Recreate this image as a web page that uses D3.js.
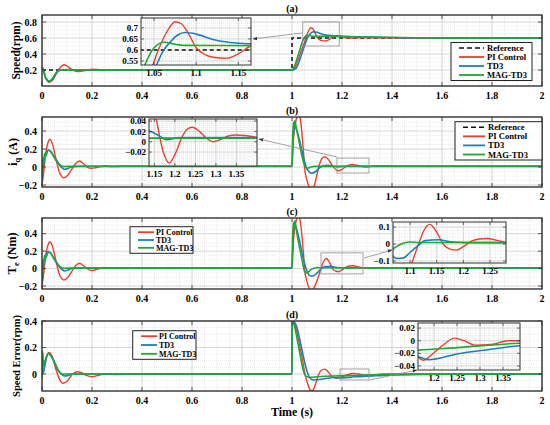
<!DOCTYPE html>
<html>
<head>
<meta charset="utf-8">
<script src="https://cdn.jsdelivr.net/npm/d3@7"></script>
<style>
  body { margin: 0; background: #fff; }
  svg { display: block; font-family: "Liberation Serif", "Times New Roman", serif; font-weight: bold; }
</style>
</head>
<body>
<svg id="chart" width="550" height="425"></svg>
<script>
// ---- data: [time (s), value] ----
const timeTicks = [0, 0.2, 0.4, 0.6, 0.8, 1, 1.2, 1.4, 1.6, 1.8, 2];
const legendFull = ["Reference", "PI Control", "TD3", "MAG-TD3"];
const legendShort = ["PI Control", "TD3", "MAG-TD3"];

// (a) speed
const speedRef = [[0, 0.2], [1, 0.2], [1, 0.6], [2, 0.6]];
const speedPI = [[0, 0.2], [0.005, 0.185], [0.015, 0.1], [0.028, 0.045], [0.04, 0.065], [0.06, 0.17], [0.075, 0.24], [0.088, 0.266], [0.1, 0.25], [0.12, 0.205], [0.135, 0.183], [0.15, 0.18], [0.175, 0.195], [0.2, 0.21], [0.23, 0.205], [0.27, 0.198], [0.35, 0.2], [1.0, 0.2], [1.01, 0.22], [1.02, 0.29], [1.03, 0.38], [1.04, 0.47], [1.0485, 0.532], [1.055, 0.6], [1.062, 0.66], [1.068, 0.7], [1.075, 0.728], [1.082, 0.72], [1.09, 0.68], [1.1, 0.61], [1.11, 0.58], [1.12, 0.567], [1.1365, 0.563], [1.15, 0.583], [1.164, 0.617], [1.18, 0.63], [1.2, 0.615], [1.23, 0.598], [1.26, 0.603], [1.3, 0.602], [2, 0.6]];
const speedTD3 = [[0, 0.2], [0.005, 0.198], [0.015, 0.1], [0.03, 0.058], [0.045, 0.1], [0.06, 0.17], [0.075, 0.2], [0.1, 0.205], [0.15, 0.2], [1.0, 0.2], [1.01, 0.205], [1.02, 0.24], [1.03, 0.32], [1.04, 0.41], [1.053, 0.532], [1.06, 0.59], [1.07, 0.64], [1.078, 0.668], [1.087, 0.679], [1.1, 0.672], [1.12, 0.648], [1.136, 0.636], [1.164, 0.628], [1.2, 0.622], [1.3, 0.612], [1.45, 0.604], [2, 0.6]];
const speedMAG = [[0, 0.2], [0.004, 0.228], [0.008, 0.17], [0.015, 0.1], [0.03, 0.06], [0.045, 0.11], [0.06, 0.18], [0.075, 0.2], [0.1, 0.201], [1.0, 0.2], [1.01, 0.25], [1.02, 0.34], [1.03, 0.44], [1.039, 0.532], [1.05, 0.61], [1.062, 0.635], [1.075, 0.626], [1.085, 0.621], [1.165, 0.62], [1.3, 0.612], [1.5, 0.604], [2, 0.6]];

// (b) q-axis current
const iqPI = [[0, -0.2], [0.005, -0.1], [0.015, 0.15], [0.025, 0.28], [0.031, 0.308], [0.04, 0.27], [0.055, 0.1], [0.07, -0.06], [0.088, -0.12], [0.1, -0.1], [0.12, -0.02], [0.135, 0.04], [0.15, 0.067], [0.165, 0.04], [0.18, 0.0], [0.198, -0.015], [0.215, -0.008], [0.235, 0.006], [0.255, 0.012], [0.28, 0.004], [0.32, 0.008], [1.0, 0.008], [1.003, 0.2], [1.01, 0.42], [1.02, 0.56], [1.027, 0.6], [1.035, 0.5], [1.045, 0.2], [1.05, 0.0], [1.06, -0.15], [1.07, -0.23], [1.079, -0.25], [1.09, -0.2], [1.1, -0.08], [1.11, 0.03], [1.12, 0.095], [1.132, 0.114], [1.145, 0.085], [1.155, 0.043], [1.17, -0.015], [1.186, -0.041], [1.2, -0.025], [1.218, 0.01], [1.23, 0.024], [1.242, 0.028], [1.26, 0.02], [1.275, 0.008], [1.293, 0.0], [1.31, 0.004], [1.33, 0.011], [1.349, 0.013], [1.37, 0.012], [1.4, 0.009], [1.5, 0.008], [2, 0.008]];
const iqTD3 = [[0, -0.15], [0.005, 0.0], [0.012, 0.12], [0.025, 0.19], [0.035, 0.17], [0.05, 0.1], [0.07, 0.02], [0.09, -0.025], [0.105, -0.015], [0.12, 0.004], [0.15, 0.008], [1.0, 0.008], [1.004, 0.3], [1.008, 0.42], [1.012, 0.448], [1.018, 0.42], [1.03, 0.3], [1.045, 0.12], [1.06, -0.02], [1.079, -0.07], [1.095, -0.05], [1.11, -0.01], [1.125, 0.015], [1.139, 0.02], [1.16, 0.012], [1.18, 0.004], [1.21, 0.008], [2, 0.008]];
const iqMAG = [[0, -0.1], [0.003, 0.1], [0.006, 0.04], [0.01, 0.15], [0.015, 0.12], [0.025, 0.19], [0.035, 0.175], [0.05, 0.11], [0.07, 0.03], [0.085, 0.004], [0.1, 0.007], [1.0, 0.007], [1.003, 0.35], [1.006, 0.5], [1.009, 0.44], [1.012, 0.52], [1.016, 0.45], [1.025, 0.33], [1.04, 0.12], [1.05, 0.02], [1.059, -0.015], [1.075, 0.0], [1.09, 0.007], [2, 0.007]];

// (c) electromagnetic torque
const tePI = [[0, -0.19], [0.005, -0.1], [0.015, 0.15], [0.025, 0.28], [0.031, 0.307], [0.04, 0.27], [0.055, 0.1], [0.07, -0.07], [0.088, -0.13], [0.1, -0.11], [0.12, -0.03], [0.135, 0.035], [0.15, 0.062], [0.165, 0.035], [0.18, 0.0], [0.198, -0.023], [0.215, -0.012], [0.235, 0.004], [0.255, 0.01], [0.28, 0.004], [0.32, 0.005], [1.0, 0.005], [1.003, 0.2], [1.01, 0.45], [1.02, 0.58], [1.027, 0.62], [1.035, 0.5], [1.045, 0.2], [1.05, 0.0], [1.06, -0.15], [1.07, -0.23], [1.079, -0.25], [1.09, -0.21], [1.1, -0.14], [1.108, -0.07], [1.116, 0.0], [1.126, 0.08], [1.137, 0.116], [1.15, 0.07], [1.162, 0.0], [1.175, -0.03], [1.187, -0.036], [1.2, -0.015], [1.216, 0.018], [1.23, 0.03], [1.244, 0.033], [1.265, 0.02], [1.283, 0.008], [1.3, 0.002], [1.33, 0.006], [1.36, 0.012], [1.4, 0.008], [2, 0.008]];
const teTD3 = [[0, -0.15], [0.005, 0.0], [0.012, 0.12], [0.025, 0.196], [0.035, 0.175], [0.05, 0.1], [0.07, 0.02], [0.09, -0.027], [0.105, -0.015], [0.12, 0.003], [0.15, 0.005], [1.0, 0.005], [1.004, 0.35], [1.008, 0.48], [1.012, 0.5], [1.018, 0.46], [1.03, 0.32], [1.045, 0.12], [1.06, -0.03], [1.075, -0.085], [1.087, -0.083], [1.1, -0.05], [1.115, -0.01], [1.128, 0.02], [1.153, 0.025], [1.18, 0.012], [1.22, 0.008], [2, 0.008]];
const teMAG = [[0, -0.1], [0.003, 0.1], [0.006, 0.04], [0.01, 0.15], [0.015, 0.12], [0.025, 0.19], [0.035, 0.175], [0.05, 0.11], [0.07, 0.03], [0.085, 0.003], [0.1, 0.005], [1.0, 0.005], [1.003, 0.4], [1.006, 0.53], [1.009, 0.47], [1.012, 0.55], [1.016, 0.47], [1.025, 0.32], [1.04, 0.1], [1.05, -0.03], [1.06, -0.05], [1.072, -0.02], [1.087, 0.004], [1.1, 0.012], [1.12, 0.009], [2, 0.007]];

// (d) speed error
const errPI = [[0, 0.0], [0.005, 0.02], [0.018, 0.13], [0.027, 0.163], [0.04, 0.135], [0.055, 0.04], [0.07, -0.04], [0.085, -0.07], [0.1, -0.055], [0.12, -0.005], [0.14, 0.017], [0.16, 0.008], [0.18, -0.012], [0.2, -0.02], [0.22, -0.012], [0.25, 0.0], [0.3, -0.003], [0.34, 0.0], [1.0, 0.0], [1.0001, 0.4], [1.01, 0.38], [1.02, 0.31], [1.03, 0.22], [1.04, 0.13], [1.052, 0.0], [1.062, -0.07], [1.07, -0.11], [1.077, -0.125], [1.085, -0.118], [1.095, -0.07], [1.105, -0.01], [1.115, 0.025], [1.131, 0.037], [1.145, 0.015], [1.155, -0.008], [1.166, -0.026], [1.177, -0.031], [1.19, -0.025], [1.216, -0.009], [1.245, 0.004], [1.265, 0.0], [1.289, -0.007], [1.325, -0.006], [1.361, 0.0], [1.386, 0.0], [2, 0.0]];
const errTD3 = [[0, 0.0], [0.005, 0.01], [0.015, 0.1], [0.025, 0.155], [0.035, 0.14], [0.05, 0.09], [0.065, 0.03], [0.08, -0.005], [0.09, -0.015], [0.105, -0.01], [0.12, 0.0], [1.0, 0.0], [1.0001, 0.4], [1.01, 0.39], [1.02, 0.35], [1.03, 0.27], [1.04, 0.18], [1.053, 0.07], [1.062, 0.01], [1.072, -0.03], [1.085, -0.045], [1.1, -0.043], [1.13, -0.036], [1.166, -0.026], [1.188, -0.03], [1.25, -0.021], [1.32, -0.014], [1.386, -0.008], [1.5, -0.004], [1.7, -0.001], [2, 0.0]];
const errMAG = [[0, -0.04], [0.003, 0.17], [0.006, 0.06], [0.012, 0.1], [0.025, 0.155], [0.035, 0.14], [0.05, 0.085], [0.065, 0.025], [0.08, 0.0], [0.1, 0.0], [1.0, 0.0], [1.0001, 0.4], [1.01, 0.36], [1.02, 0.27], [1.03, 0.17], [1.04, 0.07], [1.05, 0.0], [1.06, -0.02], [1.075, -0.024], [1.1, -0.021], [1.166, -0.015], [1.25, -0.011], [1.386, -0.004], [1.6, -0.001], [2, 0.0]];

const styleRef = { color: "#111", width: 1.5, dash: "4,3" };
const stylePI = { color: "#ee3f2d", width: 1.4 };
const styleTD3 = { color: "#1f7dbd", width: 1.6 };
const styleMAG = { color: "#1ea836", width: 1.6 };

const panels = [
  {
    title: "(a)", top: 15, bottom: 86, yDomain: [0, 0.8875], yTicks: [0.2, 0.4, 0.6, 0.8],
    label: [["Speed(rpm)", 11.5]], labelX: 14,
    series: [speedRef, speedPI, speedTD3, speedMAG], styles: [styleRef, stylePI, styleTD3, styleMAG],
    legend: { names: legendFull, x: 451, y: 42.5, w: 81, h: 38, lx: [459, 484], tx: 487, fs: 8.6 },
    inset: { x0: 141, x1: 251, y0: 18, y1: 65, xd: [1.0345, 1.165], yd: [0.532, 0.745],
             xt: [1.05, 1.1, 1.15], yt: [0.55, 0.6, 0.65, 0.7],
             rect: [1.043, 1.189, 0.5, 0.8], arrow: [[302, 33], [253, 39]] }
  },
  {
    title: "(b)", top: 117, bottom: 187, yDomain: [-0.222, 0.556], yTicks: [-0.2, 0, 0.2, 0.4],
    label: [["i", 12.5], ["q", 8.5, 3], [" (A)", 12, -3]], labelX: 11,
    series: [[], iqPI, iqTD3, iqMAG], styles: [styleRef, stylePI, styleTD3, styleMAG],
    legend: { names: legendFull, x: 455, y: 121.7, w: 87, h: 38.3, lx: [463, 485], tx: 488, fs: 8.6 },
    inset: { x0: 149, x1: 257, y0: 119, y1: 166, xd: [1.137, 1.40], yd: [-0.047, 0.044],
             xt: [1.15, 1.2, 1.25, 1.3, 1.35], yt: [-0.02, 0, 0.02, 0.04],
             rect: [1.18, 1.308, -0.067, 0.1], arrow: [[337, 157], [259, 139]] }
  },
  {
    title: "(c)", top: 218, bottom: 289, yDomain: [-0.234, 0.58], yTicks: [-0.2, 0, 0.2, 0.4],
    label: [["T", 12.5], ["e", 8.5, 3], [" (Nm)", 12, -3]], labelX: 10,
    series: [tePI, teTD3, teMAG], styles: [stylePI, styleTD3, styleMAG],
    legend: { names: legendShort, x: 130, y: 226.7, w: 63, h: 26.6, lx: [138, 154], tx: 156, fs: 8 },
    inset: { x0: 393, x1: 506, y0: 222, y1: 263, xd: [1.068, 1.28], yd: [-0.112, 0.13],
             xt: [1.1, 1.15, 1.2, 1.25], yt: [-0.1, 0, 0.1],
             rect: [1.116, 1.284, -0.061, 0.18], arrow: [[364, 258], [392, 250]] }
  },
  {
    title: "(d)", top: 321, bottom: 391, yDomain: [-0.128, 0.4], yTicks: [0, 0.2, 0.4],
    label: [["Speed Error(rpm)", 10.5]], labelX: 14,
    series: [errPI, errTD3, errMAG], styles: [stylePI, styleTD3, styleMAG],
    legend: { names: legendShort, x: 132.7, y: 330.7, w: 63.3, h: 28.6, lx: [141, 157], tx: 159, fs: 8 },
    inset: { x0: 418, x1: 520, y0: 323, y1: 370, xd: [1.165, 1.387], yd: [-0.0464, 0.028],
             xt: [1.2, 1.25, 1.3, 1.35], yt: [-0.04, -0.02, 0, 0.02],
             rect: [1.192, 1.308, -0.045, 0.038], arrow: [[370, 380], [417, 370]] }
  }
];

// ---- drawing ----
const svg = d3.select("#chart");
const defs = svg.append("defs");
defs.append("marker").attr("id", "arrowhead")
  .attr("viewBox", "0 0 10 10").attr("refX", 9).attr("refY", 5)
  .attr("markerWidth", 6).attr("markerHeight", 6).attr("orient", "auto")
  .append("path").attr("d", "M0,1.5L10,5L0,8.5Z").attr("fill", "#333");

const x = d3.scaleLinear().domain([0, 2]).range([42, 542]);
const fmt = (v) => String(v).replace("-", "\u2212");
let clipCount = 0;

function addClip(x0, y0, w, h) {
  const id = "clip" + (clipCount++);
  defs.append("clipPath").attr("id", id).append("rect")
    .attr("x", x0).attr("y", y0).attr("width", w).attr("height", h);
  return id;
}

// grid positions between the labelled ticks
function minorSteps(domain, step, majors) {
  const start = Math.ceil(domain[0] / step - 1e-9);
  const out = [];
  for (let k = start; k * step <= domain[1] + 1e-9; k++) {
    const v = +(k * step).toFixed(6);
    if (!majors.some((m) => Math.abs(m - v) < step / 10)) out.push(v);
  }
  return out;
}

function drawGrid(g, xs, ys, xMaj, yMaj, xStep, yStep) {
  const [xa, xb] = xs.range();
  const [ya, yb] = ys.range();
  const minorX = minorSteps(xs.domain(), xStep, xMaj);
  const minorY = minorSteps(ys.domain(), yStep, yMaj);
  g.selectAll(null).data(minorX).join("line")
    .attr("x1", xs).attr("x2", xs).attr("y1", ya).attr("y2", yb)
    .attr("stroke", "#d4d4d4").attr("stroke-width", 0.5).attr("stroke-dasharray", "1,1");
  g.selectAll(null).data(minorY).join("line")
    .attr("y1", ys).attr("y2", ys).attr("x1", xa).attr("x2", xb)
    .attr("stroke", "#d4d4d4").attr("stroke-width", 0.5).attr("stroke-dasharray", "1,1");
  g.selectAll(null).data(xMaj).join("line")
    .attr("x1", xs).attr("x2", xs).attr("y1", ya).attr("y2", yb)
    .attr("stroke", "#c4c4c4").attr("stroke-width", 0.7);
  g.selectAll(null).data(yMaj).join("line")
    .attr("y1", ys).attr("y2", ys).attr("x1", xa).attr("x2", xb)
    .attr("stroke", "#c4c4c4").attr("stroke-width", 0.7);
}

function drawSeries(g, series, styles, xs, ys, clipId) {
  const lg = g.append("g").attr("clip-path", `url(#${clipId})`);
  series.forEach((s, i) => {
    if (!s.length) return;
    const st = styles[i];
    lg.append("path").datum(s)
      .attr("fill", "none")
      .attr("stroke", st.color)
      .attr("stroke-width", st.width)
      .attr("stroke-dasharray", st.dash || null)
      .attr("d", d3.line().x((d) => xs(d[0])).y((d) => ys(d[1]))
        .curve(st.dash ? d3.curveLinear : d3.curveMonotoneX));
  });
}

panels.forEach((p) => {
  const g = svg.append("g");
  const y = d3.scaleLinear().domain(p.yDomain).range([p.bottom, p.top]);
  const w = 500, h = p.bottom - p.top;

  // background grid
  drawGrid(g, x, y, timeTicks, p.yTicks, 0.05, 0.05);

  // series
  const clipMain = addClip(42, p.top, w, h);
  drawSeries(g, p.series, p.styles, x, y, clipMain);

  // zoom rectangle + connector
  const ins = p.inset;
  g.append("rect")
    .attr("x", x(ins.rect[0])).attr("y", y(ins.rect[3]))
    .attr("width", x(ins.rect[1]) - x(ins.rect[0]))
    .attr("height", y(ins.rect[2]) - y(ins.rect[3]))
    .attr("fill", "none").attr("stroke", "#8c8c8c").attr("stroke-width", 0.8);
  g.append("line")
    .attr("x1", ins.arrow[0][0]).attr("y1", ins.arrow[0][1])
    .attr("x2", ins.arrow[1][0]).attr("y2", ins.arrow[1][1])
    .attr("stroke", "#8c8c8c").attr("stroke-width", 0.8)
    .attr("marker-end", "url(#arrowhead)");

  // axes frame + ticks
  const tickLen = 4;
  g.selectAll(null).data(timeTicks).join("path")
    .attr("d", (t) => `M${x(t)},${p.bottom}v${-tickLen}M${x(t)},${p.top}v${tickLen}`)
    .attr("stroke", "#333").attr("stroke-width", 0.8);
  g.selectAll(null).data(p.yTicks).join("path")
    .attr("d", (v) => `M42,${y(v)}h${tickLen}M542,${y(v)}h${-tickLen}`)
    .attr("stroke", "#333").attr("stroke-width", 0.8);
  g.append("rect").attr("x", 42).attr("y", p.top).attr("width", w).attr("height", h)
    .attr("fill", "none").attr("stroke", "#333").attr("stroke-width", 1.4);

  g.selectAll(null).data(timeTicks).join("text")
    .attr("x", x).attr("y", p.bottom + 13)
    .attr("text-anchor", "middle").attr("font-size", 10)
    .text(fmt);
  g.selectAll(null).data(p.yTicks).join("text")
    .attr("x", 37).attr("y", y).attr("dy", "0.35em")
    .attr("text-anchor", "end").attr("font-size", 10)
    .text(fmt);

  g.append("text").attr("x", 292).attr("y", p.top - 3.5)
    .attr("text-anchor", "middle").attr("font-size", 10).text(p.title);

  const lab = g.append("text")
    .attr("transform", `translate(${p.labelX},${(p.top + p.bottom) / 2}) rotate(-90)`)
    .attr("text-anchor", "middle").attr("dy", "0.35em");
  p.label.forEach(([txt, fs, dy]) => {
    lab.append("tspan").attr("font-size", fs).attr("dy", dy || null).text(txt);
  });

  // legend
  const L = p.legend;
  const lgd = g.append("g");
  lgd.append("rect").attr("x", L.x).attr("y", L.y).attr("width", L.w).attr("height", L.h)
    .attr("fill", "#fff").attr("stroke", "#222").attr("stroke-width", 1);
  const n = L.names.length;
  const rowStep = (L.h - 11) / (n - 1);
  L.names.forEach((name, i) => {
    const ry = L.y + 5.5 + i * rowStep;
    const st = p.styles[i];
    lgd.append("line").attr("x1", L.lx[0]).attr("x2", L.lx[1]).attr("y1", ry).attr("y2", ry)
      .attr("stroke", st.color).attr("stroke-width", st.dash ? 1.6 : 1.8)
      .attr("stroke-dasharray", st.dash ? "5,3" : null);
    lgd.append("text").attr("x", L.tx).attr("y", ry).attr("dy", "0.35em")
      .attr("font-size", L.fs).text(name);
  });

  // inset
  const xi = d3.scaleLinear().domain(ins.xd).range([ins.x0, ins.x1]);
  const yi = d3.scaleLinear().domain(ins.yd).range([ins.y1, ins.y0]);
  const gi = svg.append("g");
  gi.append("rect").attr("x", ins.x0).attr("y", ins.y0)
    .attr("width", ins.x1 - ins.x0).attr("height", ins.y1 - ins.y0).attr("fill", "#fff");
  const xStepI = +(ins.xt[1] - ins.xt[0]).toFixed(4) / 5;
  const yStepI = +(ins.yt[1] - ins.yt[0]).toFixed(4) / 5;
  drawGrid(gi, xi, yi, ins.xt, ins.yt, xStepI, yStepI);
  const clipIn = addClip(ins.x0, ins.y0, ins.x1 - ins.x0, ins.y1 - ins.y0);
  drawSeries(gi, p.series, p.styles, xi, yi, clipIn);
  gi.selectAll(null).data(ins.xt).join("path")
    .attr("d", (t) => `M${xi(t)},${ins.y1}v-3M${xi(t)},${ins.y0}v3`)
    .attr("stroke", "#333").attr("stroke-width", 0.7);
  gi.selectAll(null).data(ins.yt).join("path")
    .attr("d", (v) => `M${ins.x0},${yi(v)}h3M${ins.x1},${yi(v)}h-3`)
    .attr("stroke", "#333").attr("stroke-width", 0.7);
  gi.append("rect").attr("x", ins.x0).attr("y", ins.y0)
    .attr("width", ins.x1 - ins.x0).attr("height", ins.y1 - ins.y0)
    .attr("fill", "none").attr("stroke", "#333").attr("stroke-width", 1);
  gi.selectAll(null).data(ins.xt).join("text")
    .attr("x", xi).attr("y", ins.y1 + 11)
    .attr("text-anchor", "middle").attr("font-size", 9).text(fmt);
  gi.selectAll(null).data(ins.yt).join("text")
    .attr("x", ins.x0 - 3).attr("y", yi).attr("dy", "0.35em")
    .attr("text-anchor", "end").attr("font-size", 9).text(fmt);
});

svg.append("text").attr("x", 292).attr("y", 416)
  .attr("text-anchor", "middle").attr("font-size", 12).text("Time (s)");
</script>
</body>
</html>
